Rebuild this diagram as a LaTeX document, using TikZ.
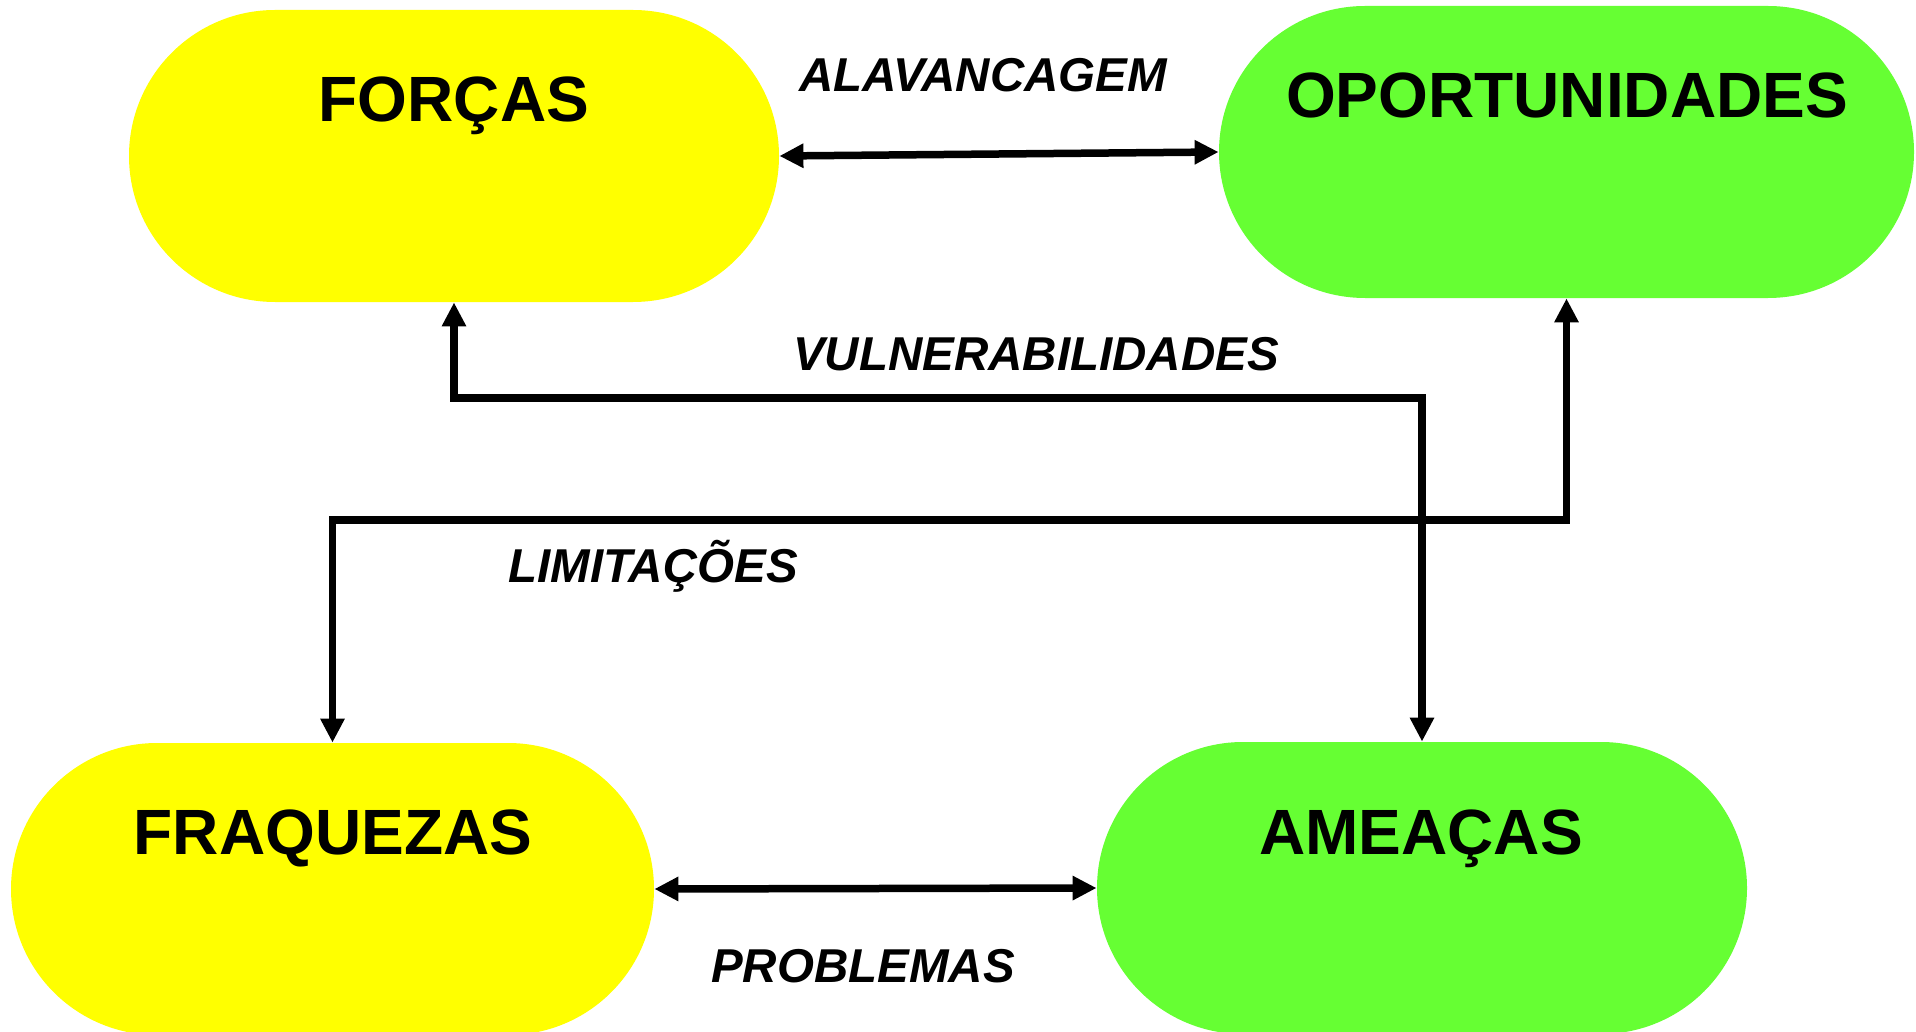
\documentclass[tikz,border=0pt]{standalone}
\usepackage{fontspec}
\setmainfont{Liberation Sans}
\usetikzlibrary{arrows.meta}
\definecolor{swotyellow}{RGB}{255,255,0}
\definecolor{swotgreen}{RGB}{102,255,51}
\begin{document}
\begin{tikzpicture}[x=0.5pt,y=-0.5pt,
  blob/.style={rectangle, rounded corners=73pt, minimum width=#1, minimum height=146pt, inner sep=0pt, draw=none},
  title/.style={anchor=base, inner sep=0pt, font=\bfseries\fontsize{32pt}{32pt}\selectfont},
  lbl/.style={anchor=base, inner sep=0pt, font=\bfseries\itshape\fontsize{23.75pt}{24pt}\selectfont},
  conn/.style={line width=3.75pt, line join=miter, {Triangle[length=12pt,width=11.5pt]}-{Triangle[length=12pt,width=11.5pt]}}]
\useasboundingbox (0,0) rectangle (1916,1032);
\node[blob=325pt, fill=swotyellow] (forcas) at (454,156) {};
\node[blob=347.5pt, fill=swotgreen] (oport) at (1566.5,152) {};
\node[blob=321.5pt, fill=swotyellow] (fraq) at (332.5,889) {};
\node[blob=325pt, fill=swotgreen] (ameacas) at (1422,888) {};
\node[title] (tforcas) at (454,122) {FORÇAS};
\node[title] (toport) at (1567,118) {OPORTUNIDADES};
\node[title] (tfraq) at (333,854) {FRAQUEZAS};
\node[title] (tameacas) at (1421,854) {AMEAÇAS};
\node[lbl] (lalav) at (983,92) {ALAVANCAGEM};
\node[lbl] (lvuln) at (1036,370) {VULNERABILIDADES};
\node[lbl] (llimit) at (653,582) {LIMITAÇÕES};
\node[lbl] (lprob) at (863,982) {PROBLEMAS};
\coordinate (vy) at (0,398);
\coordinate (ly) at (0,520);
\draw[conn] (forcas.east) -- (oport.west);
\draw[conn] (fraq.east) -- (ameacas.west);
\draw[conn] (forcas.south) -- (forcas.south |- vy) -| (ameacas.north);
\draw[conn] (oport.south) -- (oport.south |- ly) -| (fraq.north);
\end{tikzpicture}
\end{document}
